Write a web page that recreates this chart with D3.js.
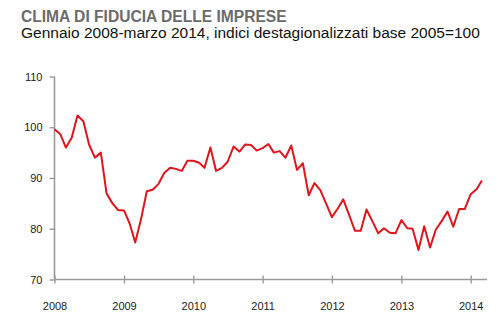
<!DOCTYPE html>
<html>
<head>
<meta charset="utf-8">
<script src="https://cdn.jsdelivr.net/npm/d3@7"></script>
<style>
  html, body { margin: 0; padding: 0; background: #fff; }
  svg { display: block; font-family: "Liberation Sans", Arial, sans-serif; }
</style>
</head>
<body>
<svg id="chart" width="500" height="329"></svg>
<script>
// Monthly business confidence index (2005=100), January 2008 - March 2014
const startYear = 2008;
const values2008 = [99.6, 98.6, 96.0, 98.0, 102.3, 101.2, 96.6, 94.0, 95.0, 87.0, 85.0, 83.7];
const values2009 = [83.6, 80.9, 77.3, 81.9, 87.4, 87.7, 88.8, 91.0, 92.0, 91.8, 91.4, 93.4];
const values2010 = [93.4, 93.0, 92.0, 96.0, 91.4, 92.0, 93.2, 96.2, 95.2, 96.6, 96.5, 95.4];
const values2011 = [95.9, 96.7, 95.0, 95.3, 94.0, 96.4, 91.6, 92.9, 86.6, 89.0, 87.6, 85.0];
const values2012 = [82.3, 84.0, 85.8, 82.7, 79.6, 79.6, 83.8, 81.5, 79.1, 80.1, 79.2, 79.1];
const values2013 = [81.7, 80.1, 80.0, 75.8, 80.5, 76.3, 79.8, 81.5, 83.4, 80.4, 83.9, 83.9];
const values2014 = [86.8, 87.8, 89.5];

const yTicks = [70, 80, 90, 100, 110];
const xTickYears = [2008, 2009, 2010, 2011, 2012, 2013, 2014];

const titleText = "CLIMA DI FIDUCIA DELLE IMPRESE";
const subtitleText = "Gennaio 2008-marzo 2014, indici destagionalizzati base 2005=100";

const series = [values2008, values2009, values2010, values2011, values2012, values2013, values2014]
  .flat()
  .map((v, i) => ({ date: new Date(startYear, i, 1), value: v }));

const svg = d3.select("#chart");

const x = d3.scaleTime()
  .domain([new Date(2008, 0, 1), new Date(2014, 0, 1)])
  .range([54.5, 470.7]);
const y = d3.scaleLinear().domain([70, 110]).range([279.5, 76.5]);

const axisColor = "#9a9a9a";
const textColor = "#1a1a1a";

// Titles
svg.append("text")
  .attr("x", 21).attr("y", 22)
  .attr("font-size", 15.6).attr("font-weight", "bold")
  .attr("fill", "#6b6b6b")
  .text(titleText);
svg.append("text")
  .attr("x", 21).attr("y", 37.5)
  .attr("font-size", 15.5)
  .attr("fill", "#111")
  .text(subtitleText);

// Y axis
const yAxis = svg.append("g").attr("transform", `translate(${x.range()[0]},0)`)
  .call(d3.axisLeft(y).tickValues(yTicks).tickSize(5).tickPadding(7));
yAxis.select(".domain").attr("d", `M0,${y(70)}V${y(110)}`);

// X axis: ticks cross the baseline
const xAxis = svg.append("g").attr("transform", `translate(0,${y(70)})`)
  .call(d3.axisBottom(x)
    .tickValues(xTickYears.map(yr => new Date(yr, 0, 1)))
    .tickFormat(d3.timeFormat("%Y"))
    .tickSize(4).tickPadding(19));
xAxis.select(".domain").attr("d", `M${x.range()[0]},0H487`);
xAxis.selectAll(".tick line").attr("y1", -4).attr("y2", 4);

[yAxis, xAxis].forEach(g => {
  g.select(".domain").attr("stroke", axisColor).attr("stroke-width", 1.6);
  g.selectAll(".tick line").attr("stroke", axisColor).attr("stroke-width", 1.4);
  g.selectAll(".tick text").attr("fill", textColor).attr("font-size", 11)
    .attr("font-family", "'Liberation Sans', Arial, sans-serif");
});

// Index line
const line = d3.line()
  .x(d => x(d.date))
  .y(d => y(d.value));

svg.append("path")
  .datum(series)
  .attr("fill", "none")
  .attr("stroke", "#e0141b")
  .attr("stroke-width", 2)
  .attr("stroke-linejoin", "round")
  .attr("d", line);
</script>
</body>
</html>
